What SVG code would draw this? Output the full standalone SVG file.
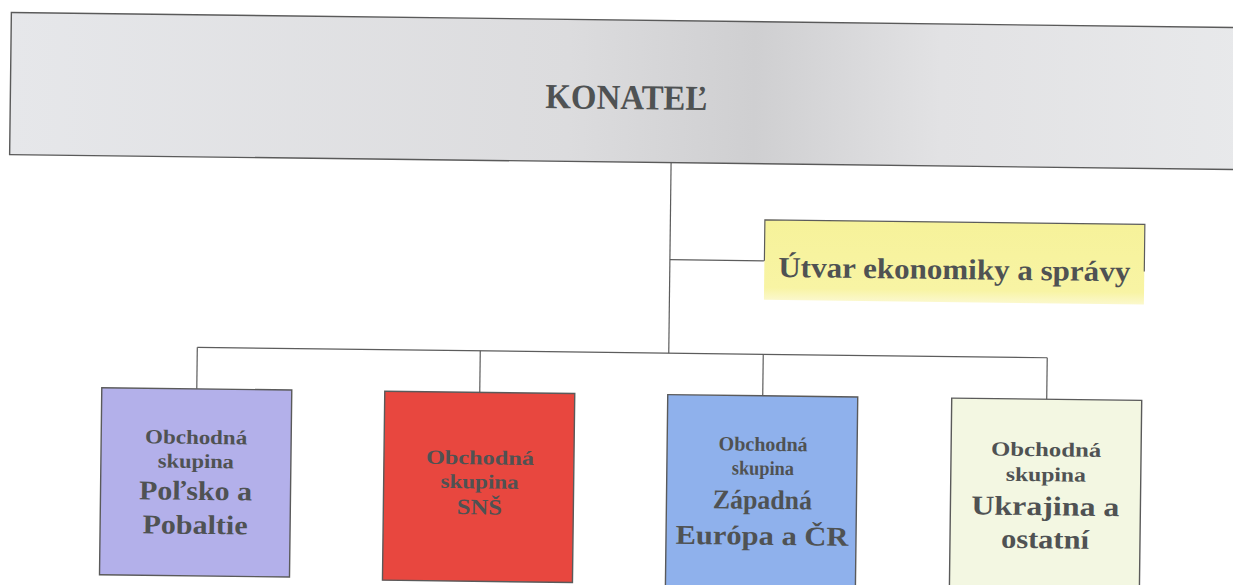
<svg xmlns="http://www.w3.org/2000/svg" width="1233" height="585" viewBox="0 0 1233 585">
  <defs>
    <linearGradient id="gTop" x1="0" y1="0" x2="1" y2="0">
      <stop offset="0" stop-color="#e6e7ea"/>
      <stop offset="0.45" stop-color="#dcdcde"/>
      <stop offset="0.6" stop-color="#cfcfd1"/>
      <stop offset="0.75" stop-color="#e2e2e4"/>
      <stop offset="1" stop-color="#e8e9eb"/>
    </linearGradient>
    <linearGradient id="gYel" x1="0" y1="0" x2="0" y2="1">
      <stop offset="0" stop-color="#f6f29a"/>
      <stop offset="0.85" stop-color="#f8f4a4"/>
      <stop offset="1" stop-color="#fbf8cc"/>
    </linearGradient>
  </defs>
  <style>
    .box { stroke: #5a5a5a; stroke-width: 1.4; }
    .conn { fill: none; stroke: #5c5c5c; stroke-width: 1.2; }
    .t { font-family: "Liberation Serif", "DejaVu Serif", serif; font-weight: bold; fill: #4f5253; text-anchor: middle; }
    .s { font-size: 20px; }
    .l { font-size: 27px; }
  </style>
  <rect x="0" y="0" width="1233" height="585" fill="#ffffff"/>
  <g transform="rotate(0.7 617 292)">
    <g id="connectors">
      <line class="conn" x1="669.5" y1="162" x2="669.5" y2="352.5"/>
      <line class="conn" x1="669.5" y1="259" x2="764" y2="259"/>
      <line class="conn" x1="198" y1="352.5" x2="1048" y2="352.5"/>
      <line class="conn" x1="198" y1="352.5" x2="198" y2="394"/>
      <line class="conn" x1="481" y1="352.5" x2="481" y2="394"/>
      <line class="conn" x1="764" y1="352.5" x2="764" y2="394"/>
      <line class="conn" x1="1048" y1="352.5" x2="1048" y2="394"/>
    </g>
    <g id="konatel">
      <rect class="box" x="8" y="20" width="1240" height="142" fill="url(#gTop)"/>
      <text class="t" x="624" y="109" font-size="35" textLength="162" lengthAdjust="spacingAndGlyphs">KONATEĽ</text>
    </g>
    <g id="utvar">
      <rect x="764" y="218" width="380" height="80" fill="url(#gYel)"/>
      <path class="conn" d="M764 259 V218 H1144 V265" stroke-width="1.4"/>
      <text class="t" x="954" y="275" font-size="29" textLength="352" lengthAdjust="spacingAndGlyphs">Útvar ekonomiky a správy</text>
    </g>
    <g id="polsko">
      <rect class="box" x="103" y="394" width="190" height="187" fill="#b3b0ea"/>
      <text class="t s" x="198" y="449" textLength="102" lengthAdjust="spacingAndGlyphs">Obchodná</text>
      <text class="t s" x="198" y="473" textLength="76" lengthAdjust="spacingAndGlyphs">skupina</text>
      <text class="t l" x="198" y="505" textLength="113" lengthAdjust="spacingAndGlyphs">Poľsko a</text>
      <text class="t l" x="198" y="539" textLength="105" lengthAdjust="spacingAndGlyphs">Pobaltie</text>
    </g>
    <g id="sns">
      <rect class="box" x="386" y="394" width="190" height="189" fill="#e8473f"/>
      <text class="t s" x="482" y="466" textLength="108" lengthAdjust="spacingAndGlyphs">Obchodná</text>
      <text class="t s" x="482" y="490" textLength="78" lengthAdjust="spacingAndGlyphs">skupina</text>
      <text class="t" x="482" y="516" font-size="22" textLength="45" lengthAdjust="spacingAndGlyphs">SNŠ</text>
    </g>
    <g id="zapadna">
      <rect class="box" x="669" y="394" width="190" height="195" fill="#8fb1ec"/>
      <text class="t s" x="765" y="449" textLength="89" lengthAdjust="spacingAndGlyphs">Obchodná</text>
      <text class="t s" x="765" y="473" textLength="62" lengthAdjust="spacingAndGlyphs">skupina</text>
      <text class="t l" x="765" y="507" textLength="99" lengthAdjust="spacingAndGlyphs">Západná</text>
      <text class="t l" x="765" y="543" textLength="173" lengthAdjust="spacingAndGlyphs">Európa a ČR</text>
    </g>
    <g id="ukrajina">
      <rect class="box" x="953" y="394" width="190" height="195" fill="#f3f7e2"/>
      <text class="t s" x="1048" y="451" textLength="110" lengthAdjust="spacingAndGlyphs">Obchodná</text>
      <text class="t s" x="1048" y="476" textLength="80" lengthAdjust="spacingAndGlyphs">skupina</text>
      <text class="t l" x="1048" y="510" textLength="148" lengthAdjust="spacingAndGlyphs">Ukrajina a</text>
      <text class="t l" x="1048" y="543" textLength="88" lengthAdjust="spacingAndGlyphs">ostatní</text>
    </g>
  </g>
</svg>
